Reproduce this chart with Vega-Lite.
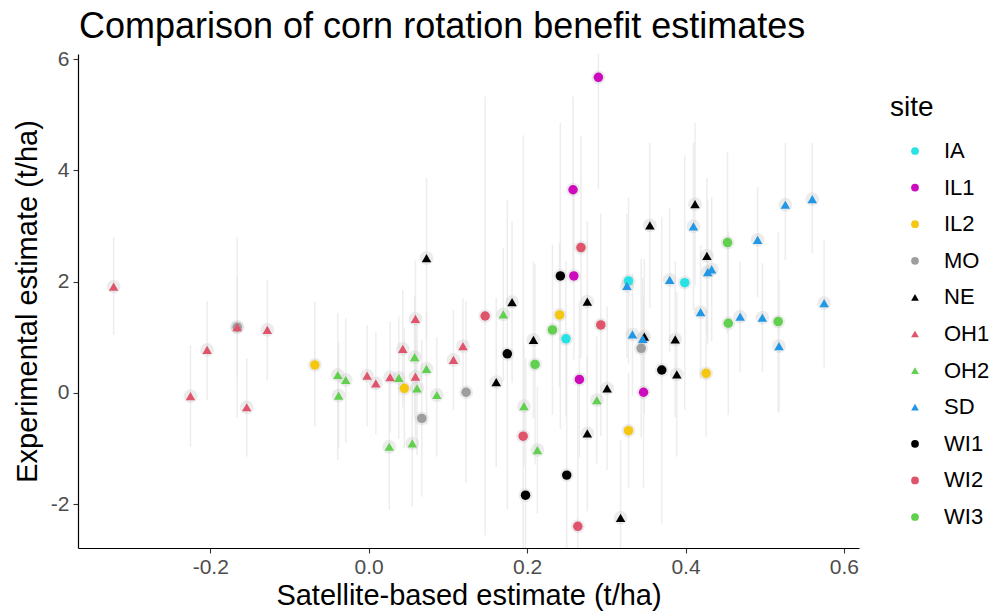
{
  "$schema": "https://vega.github.io/schema/vega-lite/v6.json",
  "width": 781,
  "height": 494,
  "autosize": {"type": "none"},
  "padding": {"left": 78, "top": 54, "right": 131, "bottom": 65},
  "background": "white",
  "title": {
    "text": "Comparison of corn rotation benefit estimates",
    "anchor": "start",
    "frame": "group",
    "fontSize": 36,
    "font": "Liberation Sans",
    "fontWeight": "normal",
    "color": "black",
    "offset": 2,
    "dx": 1
  },
  "config": {
    "view": {"stroke": null},
    "font": "Liberation Sans",
    "axis": {
      "grid": false,
      "domainColor": "black",
      "domainWidth": 1.2,
      "tickColor": "#333333",
      "tickSize": 5,
      "tickWidth": 1.1,
      "labelColor": "#4D4D4D",
      "labelFontSize": 21,
      "labelFont": "Liberation Sans",
      "titleFont": "Liberation Sans",
      "titleFontSize": 29,
      "titleFontWeight": "normal",
      "titleColor": "black",
      "labelExpr": "replace(datum.label, '−', '-')"
    }
  },
  "data": {
    "values": [
      {"site": "IA", "x": 0.249, "y": 0.97, "lo": -0.43, "hi": 2.37},
      {"site": "IA", "x": 0.328, "y": 2.01, "lo": 0.51, "hi": 3.51},
      {"site": "IA", "x": 0.399, "y": 1.98, "lo": -0.31, "hi": 4.27},
      {"site": "IL1", "x": 0.29, "y": 5.67, "lo": 3.67, "hi": 7.67},
      {"site": "IL1", "x": 0.258, "y": 3.65, "lo": 1.98, "hi": 5.32},
      {"site": "IL1", "x": 0.259, "y": 2.1, "lo": 0.6, "hi": 3.6},
      {"site": "IL1", "x": 0.266, "y": 0.24, "lo": -1.16, "hi": 1.64},
      {"site": "IL1", "x": 0.347, "y": 0.01, "lo": -1.7, "hi": 1.72},
      {"site": "IL2", "x": -0.068, "y": 0.5, "lo": -0.61, "hi": 1.64},
      {"site": "IL2", "x": 0.045, "y": 0.08, "lo": -1.0, "hi": 1.16},
      {"site": "IL2", "x": 0.241, "y": 1.4, "lo": 0.1, "hi": 2.7},
      {"site": "IL2", "x": 0.426, "y": 0.35, "lo": -0.79, "hi": 1.49},
      {"site": "IL2", "x": 0.328, "y": -0.68, "lo": -1.72, "hi": 0.36},
      {"site": "MO", "x": -0.166, "y": 1.18, "lo": -0.44, "hi": 2.8},
      {"site": "MO", "x": 0.067, "y": -0.46, "lo": -1.87, "hi": 0.95},
      {"site": "MO", "x": 0.123, "y": 0.01, "lo": -1.62, "hi": 1.64},
      {"site": "MO", "x": 0.344, "y": 0.8, "lo": -0.8, "hi": 2.4},
      {"site": "NE", "x": 0.073, "y": 2.42, "lo": 0.98, "hi": 3.86},
      {"site": "NE", "x": 0.181, "y": 1.63, "lo": 0.18, "hi": 3.08},
      {"site": "NE", "x": 0.161, "y": 0.19, "lo": -1.33, "hi": 1.71},
      {"site": "NE", "x": 0.208, "y": 0.95, "lo": -0.46, "hi": 2.36},
      {"site": "NE", "x": 0.276, "y": -0.73, "lo": -2.13, "hi": 0.67},
      {"site": "NE", "x": 0.276, "y": 1.64, "lo": 0.2, "hi": 3.08},
      {"site": "NE", "x": 0.412, "y": 3.39, "lo": 1.93, "hi": 4.85},
      {"site": "NE", "x": 0.355, "y": 3.01, "lo": 1.53, "hi": 4.49},
      {"site": "NE", "x": 0.427, "y": 2.46, "lo": 1.06, "hi": 3.86},
      {"site": "NE", "x": 0.348, "y": 1.01, "lo": -0.39, "hi": 2.41},
      {"site": "NE", "x": 0.387, "y": 0.96, "lo": -0.44, "hi": 2.36},
      {"site": "NE", "x": 0.389, "y": 0.33, "lo": -1.15, "hi": 1.81},
      {"site": "NE", "x": 0.301, "y": 0.08, "lo": -1.39, "hi": 1.55},
      {"site": "NE", "x": 0.318, "y": -2.25, "lo": -3.65, "hi": -0.85},
      {"site": "OH1", "x": -0.322, "y": 1.91, "lo": 1.04, "hi": 2.8},
      {"site": "OH1", "x": -0.204, "y": 0.77, "lo": -0.13, "hi": 1.65},
      {"site": "OH1", "x": -0.166, "y": 1.18, "lo": 0.28, "hi": 2.08},
      {"site": "OH1", "x": -0.128, "y": 1.13, "lo": 0.23, "hi": 2.03},
      {"site": "OH1", "x": -0.225, "y": -0.06, "lo": -0.97, "hi": 0.86},
      {"site": "OH1", "x": -0.154, "y": -0.26, "lo": -1.15, "hi": 0.62},
      {"site": "OH1", "x": -0.002, "y": 0.31, "lo": -0.6, "hi": 1.22},
      {"site": "OH1", "x": 0.009, "y": 0.17, "lo": -0.75, "hi": 1.09},
      {"site": "OH1", "x": 0.027, "y": 0.28, "lo": -0.72, "hi": 1.28},
      {"site": "OH1", "x": 0.043, "y": 0.79, "lo": -0.26, "hi": 1.84},
      {"site": "OH1", "x": 0.059, "y": 1.33, "lo": 0.28, "hi": 2.38},
      {"site": "OH1", "x": 0.059, "y": 0.29, "lo": -0.8, "hi": 1.38},
      {"site": "OH1", "x": 0.107, "y": 0.59, "lo": -0.31, "hi": 1.49},
      {"site": "OH1", "x": 0.119, "y": 0.84, "lo": -0.02, "hi": 1.7},
      {"site": "OH2", "x": -0.039, "y": 0.32, "lo": -1.21, "hi": 1.43},
      {"site": "OH2", "x": -0.029, "y": 0.23, "lo": -0.9, "hi": 1.34},
      {"site": "OH2", "x": -0.038, "y": -0.05, "lo": -1.0, "hi": 0.9},
      {"site": "OH2", "x": 0.038, "y": 0.27, "lo": -0.83, "hi": 1.37},
      {"site": "OH2", "x": 0.058, "y": 0.64, "lo": -0.46, "hi": 1.74},
      {"site": "OH2", "x": 0.061, "y": 0.08, "lo": -1.12, "hi": 1.28},
      {"site": "OH2", "x": 0.073, "y": 0.43, "lo": -0.57, "hi": 1.43},
      {"site": "OH2", "x": 0.086, "y": -0.04, "lo": -1.15, "hi": 1.0},
      {"site": "OH2", "x": 0.026, "y": -0.97, "lo": -2.1, "hi": 0.16},
      {"site": "OH2", "x": 0.055, "y": -0.91, "lo": -2.05, "hi": 0.23},
      {"site": "OH2", "x": 0.17, "y": 1.41, "lo": 0.21, "hi": 2.61},
      {"site": "OH2", "x": 0.196, "y": -0.24, "lo": -1.34, "hi": 0.86},
      {"site": "OH2", "x": 0.213, "y": -1.03, "lo": -2.17, "hi": 0.11},
      {"site": "OH2", "x": 0.288, "y": -0.13, "lo": -1.27, "hi": 1.01},
      {"site": "SD", "x": 0.41, "y": 2.99, "lo": 1.49, "hi": 4.49},
      {"site": "SD", "x": 0.491, "y": 2.75, "lo": 1.72, "hi": 3.7},
      {"site": "SD", "x": 0.526, "y": 3.38, "lo": 2.39, "hi": 4.49},
      {"site": "SD", "x": 0.56, "y": 3.48, "lo": 2.51, "hi": 4.49},
      {"site": "SD", "x": 0.428, "y": 2.17, "lo": 0.87, "hi": 3.47},
      {"site": "SD", "x": 0.433, "y": 2.22, "lo": 0.92, "hi": 3.52},
      {"site": "SD", "x": 0.326, "y": 1.92, "lo": 0.62, "hi": 3.22},
      {"site": "SD", "x": 0.38, "y": 2.03, "lo": 0.73, "hi": 3.33},
      {"site": "SD", "x": 0.419, "y": 1.45, "lo": 0.25, "hi": 2.65},
      {"site": "SD", "x": 0.469, "y": 1.37, "lo": 0.37, "hi": 2.35},
      {"site": "SD", "x": 0.497, "y": 1.35, "lo": 0.37, "hi": 2.33},
      {"site": "SD", "x": 0.575, "y": 1.61, "lo": 0.46, "hi": 2.74},
      {"site": "SD", "x": 0.518, "y": 0.84, "lo": -0.36, "hi": 2.04},
      {"site": "SD", "x": 0.333, "y": 1.05, "lo": -0.05, "hi": 2.15},
      {"site": "SD", "x": 0.346, "y": 0.97, "lo": -0.13, "hi": 2.07},
      {"site": "WI1", "x": 0.175, "y": 0.7, "lo": -2.1, "hi": 3.47},
      {"site": "WI1", "x": 0.198, "y": -1.84, "lo": -4.3, "hi": 0.62},
      {"site": "WI1", "x": 0.25, "y": -1.48, "lo": -3.98, "hi": 1.02},
      {"site": "WI1", "x": 0.242, "y": 2.1, "lo": -0.65, "hi": 4.85},
      {"site": "WI1", "x": 0.37, "y": 0.41, "lo": -2.35, "hi": 3.17},
      {"site": "WI2", "x": 0.147, "y": 1.38, "lo": -2.56, "hi": 5.32},
      {"site": "WI2", "x": 0.195, "y": -0.78, "lo": -6.19, "hi": 4.63},
      {"site": "WI2", "x": 0.264, "y": -2.4, "lo": -5.0, "hi": 0.2},
      {"site": "WI2", "x": 0.293, "y": 1.22, "lo": -0.78, "hi": 3.22},
      {"site": "WI2", "x": 0.268, "y": 2.61, "lo": 0.61, "hi": 4.61},
      {"site": "WI3", "x": 0.21, "y": 0.51, "lo": -1.29, "hi": 2.31},
      {"site": "WI3", "x": 0.232, "y": 1.13, "lo": -0.4, "hi": 2.66},
      {"site": "WI3", "x": 0.453, "y": 2.7, "lo": 1.07, "hi": 4.33},
      {"site": "WI3", "x": 0.454, "y": 1.25, "lo": -0.4, "hi": 2.9},
      {"site": "WI3", "x": 0.517, "y": 1.28, "lo": -0.34, "hi": 2.9}
    ]
  },
  "layer": [
    {
      "mark": {"type": "rule", "color": "#e6e6e6", "strokeWidth": 1.5, "opacity": 0.7, "clip": true},
      "encoding": {
        "x": {"field": "x", "type": "quantitative"},
        "y": {"field": "lo", "type": "quantitative"},
        "y2": {"field": "hi"}
      }
    },
    {
      "mark": {"type": "point", "shape": "circle", "filled": true, "size": 190, "color": "#c8c8c8", "opacity": 0.35},
      "encoding": {
        "x": {"field": "x", "type": "quantitative"},
        "y": {"field": "y", "type": "quantitative"}
      }
    },
    {
      "mark": {"type": "point", "filled": true, "size": 90, "opacity": 1},
      "encoding": {
        "x": {
          "field": "x", "type": "quantitative",
          "scale": {"domain": [-0.367, 0.619], "nice": false, "zero": false},
          "axis": {"values": [-0.2, 0, 0.2, 0.4, 0.6], "format": ".1f", "title": "Satellite-based estimate (t/ha)", "titlePadding": 4, "labelPadding": 3}
        },
        "y": {
          "field": "y", "type": "quantitative",
          "scale": {"domain": [-2.79, 6.09], "nice": false, "zero": false},
          "axis": {"values": [-2, 0, 2, 4, 6], "format": "d", "title": "Experimental estimate (t/ha)", "titlePadding": 8, "labelPadding": 4}
        },
        "color": {
          "field": "site", "type": "nominal",
          "scale": {
            "domain": ["IA", "IL1", "IL2", "MO", "NE", "OH1", "OH2", "SD", "WI1", "WI2", "WI3"],
            "range": ["#28E2E5", "#CD0BBC", "#F5C710", "#9E9E9E", "#000000", "#DF536B", "#61D04F", "#2297E6", "#000000", "#DF536B", "#61D04F"]
          },
          "legend": {
            "title": "site",
            "orient": "none",
            "legendX": 812,
            "legendY": 40,
            "titleFontSize": 28,
            "titleFontWeight": "normal",
            "titleColor": "black",
            "titlePadding": 18,
            "labelFontSize": 22,
            "labelColor": "black",
            "symbolSize": 60,
            "symbolOffset": 14,
            "labelOffset": 18,
            "rowPadding": 14.6,
            "symbolStrokeWidth": 0
          }
        },
        "shape": {
          "field": "site", "type": "nominal",
          "scale": {
            "domain": ["IA", "IL1", "IL2", "MO", "NE", "OH1", "OH2", "SD", "WI1", "WI2", "WI3"],
            "range": ["circle", "circle", "circle", "circle", "triangle-up", "triangle-up", "triangle-up", "triangle-up", "circle", "circle", "circle"]
          }
        }
      }
    }
  ]
}
